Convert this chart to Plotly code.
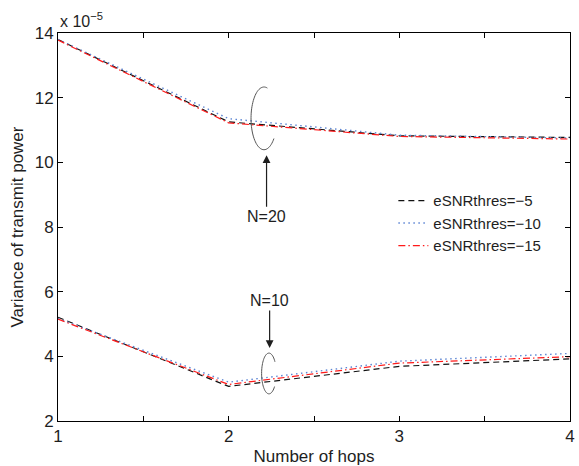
import numpy as np
import plotly.graph_objects as go

# Number of hops and the variance of transmit power (in units of 1e-5)
hops = [1, 2, 3, 4]

n20_snr5 = [13.80, 11.25, 10.82, 10.77]
n20_snr10 = [13.80, 11.35, 10.84, 10.75]
n20_snr15 = [13.78, 11.22, 10.80, 10.72]

n10_snr5 = [5.21, 3.07, 3.69, 3.92]
n10_snr10 = [5.17, 3.20, 3.85, 4.09]
n10_snr15 = [5.15, 3.13, 3.79, 3.99]

series_names = ["eSNRthres=\u22125", "eSNRthres=\u221210", "eSNRthres=\u221215"]

x_tickvals = [1, 2, 3, 4]
y_tickvals = [2, 4, 6, 8, 10, 12, 14]

FONT = "Liberation Sans, Arial, Helvetica, sans-serif"
TXT = "#1e1e1e"

styles = [
    dict(color="#111111", dash="6px,4px", width=1.2),
    dict(color="#5d86d4", dash="1.5px,3.5px", width=1.4),
    dict(color="#ff1a1a", dash="7px,3px,1.5px,3px", width=1.2),
]

fig = go.Figure()
upper = [n20_snr5, n20_snr10, n20_snr15]
lower = [n10_snr5, n10_snr10, n10_snr15]
for name, st, yu, yl in zip(series_names, styles, upper, lower):
    fig.add_trace(go.Scatter(x=hops, y=yu, mode="lines", name=name,
                             line=st, legendgroup=name, showlegend=True))
    fig.add_trace(go.Scatter(x=hops, y=yl, mode="lines", name=name,
                             line=st, legendgroup=name, showlegend=False))


def arc_path(cx, cy, rx, ry, a0, a1, n=60):
    t = np.radians(np.linspace(a0, a1, n))
    xs = cx + rx * np.cos(t)
    ys = cy + ry * np.sin(t)
    return "M " + " L ".join(f"{a:.4f},{b:.4f}" for a, b in zip(xs, ys))


# grouping ellipses around each family of curves
fig.add_shape(type="path", xref="x", yref="y",
              path=arc_path(2.207, 11.36, 0.076, 0.97, 75, 320),
              line=dict(color="#555555", width=1))
fig.add_shape(type="path", xref="x", yref="y",
              path=arc_path(2.236, 3.47, 0.043, 0.63, 35, 320),
              line=dict(color="#555555", width=1))

# labels with arrows pointing at the ellipses
fig.add_annotation(x=2.222, y=10.22, ax=2.222, ay=8.32, xref="x", yref="y",
                   axref="x", ayref="y", text="N=20", showarrow=True,
                   arrowhead=2, arrowsize=1.3, arrowwidth=1.2, arrowcolor=TXT,
                   standoff=0, startstandoff=0,
                   font=dict(family=FONT, size=16, color=TXT))
fig.add_annotation(x=2.24, y=4.26, ax=2.24, ay=5.73, xref="x", yref="y",
                   axref="x", ayref="y", text="N=10", showarrow=True,
                   arrowhead=2, arrowsize=1.3, arrowwidth=1.2, arrowcolor=TXT,
                   standoff=0, startstandoff=0,
                   font=dict(family=FONT, size=16, color=TXT))

# axis exponent
fig.add_annotation(x=0.0, y=1.0, xref="paper", yref="paper", xanchor="left",
                   yanchor="bottom", yshift=1, text="x 10<sup>\u22125</sup>",
                   showarrow=False, font=dict(family=FONT, size=16, color=TXT))

axis_common = dict(
    showgrid=False, zeroline=False, showline=True, linecolor="#000000",
    linewidth=1, mirror="ticks", ticks="inside", ticklen=5, tickcolor="#000000",
    tickfont=dict(family=FONT, size=17, color=TXT),
)

fig.update_layout(
    width=579, height=466,
    margin=dict(l=58, r=4, t=33, b=39),
    paper_bgcolor="white", plot_bgcolor="white",
    font=dict(family=FONT, color=TXT),
    xaxis=dict(range=[1, 4], tickvals=x_tickvals,
               minor=dict(tickvals=[1.5, 2.5, 3.5], ticks="inside", ticklen=5,
                          tickcolor="#000000", showgrid=False),
               title=dict(text="Number of hops", standoff=4,
                          font=dict(family=FONT, size=17, color=TXT)),
               **axis_common),
    yaxis=dict(range=[2, 14], tickvals=y_tickvals,
               title=dict(text="Variance of transmit power", standoff=6,
                          font=dict(family=FONT, size=17, color=TXT)),
               **axis_common),
    legend=dict(x=0.655, y=0.61, xanchor="left", yanchor="top",
                bgcolor="rgba(0,0,0,0)", borderwidth=0,
                font=dict(family=FONT, size=15, color=TXT),
                tracegroupgap=0, itemwidth=30),
    showlegend=True,
)

fig.write_html("out.html")
